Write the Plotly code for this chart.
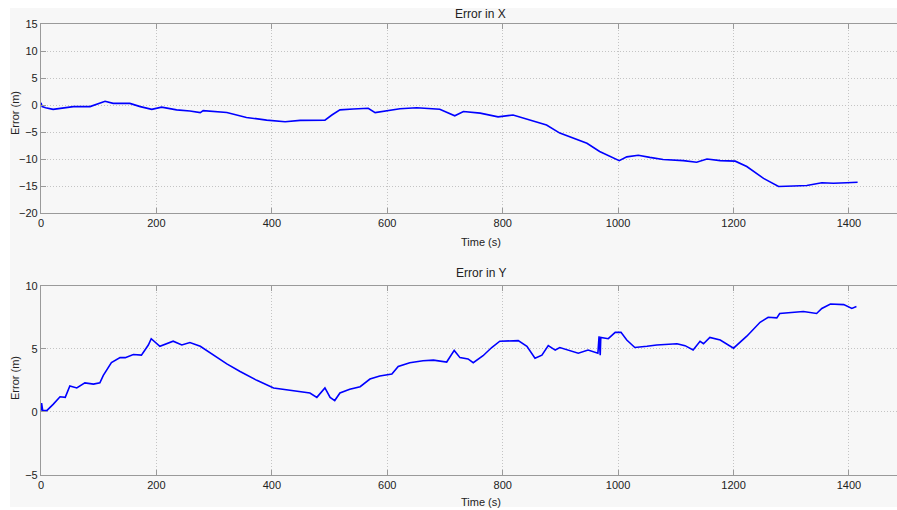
import plotly.graph_objects as go

# ---- data ----
t_x = [0, 2, 8, 21, 56, 85, 111, 125, 154, 172, 192, 209, 235, 258, 276, 281, 322, 356, 391, 423, 449,
       492, 504, 518, 541, 567, 579, 599, 622, 651, 691, 717, 732, 761, 792, 818, 853, 876, 899, 928,
       946, 968, 1002, 1015, 1035, 1055, 1078, 1113, 1136, 1154, 1177, 1203, 1223, 1252, 1278, 1304,
       1327, 1353, 1373, 1396, 1415]
err_x = [0.4, -0.3, -0.5, -0.8, -0.3, -0.3, 0.7, 0.3, 0.3, -0.3, -0.8, -0.4, -0.9, -1.1, -1.4, -1.05,
         -1.4, -2.3, -2.8, -3.1, -2.85, -2.8, -1.85, -0.9, -0.74, -0.6, -1.4, -1.1, -0.7, -0.5, -0.8,
         -2.0, -1.2, -1.5, -2.2, -1.85, -2.9, -3.7, -5.2, -6.4, -7.1, -8.6, -10.3, -9.6, -9.3, -9.7,
         -10.1, -10.3, -10.6, -10.0, -10.3, -10.4, -11.4, -13.6, -15.1, -15.0, -14.9, -14.4, -14.5,
         -14.4, -14.3]

t_y = [0, 1, 3, 10, 21, 33, 42, 50, 62, 76, 91, 102, 108, 122, 137, 146, 160, 174, 186, 191, 206,
       229, 244, 258, 276, 299, 322, 345, 374, 403, 426, 449, 466, 478, 492, 501, 509, 518, 535, 553,
       570, 587, 608, 619, 639, 662, 680, 703, 716, 726, 740, 749, 766, 781, 795, 827, 842, 856, 868,
       879, 891, 899, 911, 931, 948, 965, 967, 969, 970, 983, 995, 1005, 1015, 1029, 1050, 1067, 1102,
       1116, 1130, 1142, 1148, 1159, 1177, 1200, 1223, 1246, 1260, 1275, 1280, 1304, 1321, 1344, 1353,
       1368, 1391, 1405, 1413]
err_y = [0.1, 0.7, 0.1, 0.1, 0.6, 1.2, 1.15, 2.06, 1.9, 2.3, 2.2, 2.3, 2.9, 3.9, 4.3, 4.3, 4.55, 4.5,
         5.3, 5.8, 5.2, 5.6, 5.3, 5.5, 5.2, 4.5, 3.8, 3.2, 2.5, 1.9, 1.75, 1.6, 1.5, 1.15, 1.9, 1.15,
         0.9, 1.5, 1.8, 2.0, 2.6, 2.85, 3.0, 3.6, 3.9, 4.05, 4.1, 3.95, 4.87, 4.3, 4.2, 3.9, 4.45, 5.1,
         5.6, 5.65, 5.2, 4.25, 4.5, 5.25, 4.9, 5.1, 4.95, 4.65, 4.9, 4.65, 6.0, 4.5, 5.9, 5.8, 6.3, 6.3,
         5.7, 5.1, 5.2, 5.3, 5.4, 5.25, 4.9, 5.6, 5.4, 5.9, 5.7, 5.05, 6.0, 7.1, 7.5, 7.45, 7.8, 7.9,
         7.95, 7.8, 8.2, 8.55, 8.5, 8.2, 8.35]

x_ticks = [0, 200, 400, 600, 800, 1000, 1200, 1400]
y1_ticks = [15, 10, 5, 0, -5, -10, -15, -20]
y2_ticks = [10, 5, 0, -5]

W, H = 897, 510
FONT = "Liberation Sans, Arial, sans-serif"
LINE = "#0000ff"
AX = "#9a9a9a"
GRID = "#c4c4c4"
BG = "#f7f7f7"

fig = go.Figure()
fig.add_trace(go.Scatter(x=t_x, y=err_x, mode="lines", line=dict(color=LINE, width=1.6),
                         xaxis="x", yaxis="y", showlegend=False))
fig.add_trace(go.Scatter(x=t_y, y=err_y, mode="lines", line=dict(color=LINE, width=1.6),
                         xaxis="x2", yaxis="y2", showlegend=False))

xdom = [41 / W, 1.0]
y1dom = [1 - 213 / H, 1 - 24 / H]
y2dom = [1 - 475 / H, 1 - 285.7 / H]
xr = [0, (W - 41) / 0.5771]

def xax(dom_anchor):
    return dict(domain=xdom, range=xr, tickvals=x_ticks, ticks="inside", ticklen=5,
                tickcolor=AX, showline=True, linecolor=AX, linewidth=1.2, mirror="allticks",
                showgrid=True, gridcolor=GRID, griddash="1px,2px", gridwidth=1, zeroline=False,
                tickfont=dict(family=FONT, size=11, color="#222"), anchor=dom_anchor,
                automargin=False, fixedrange=True)

def yax(dom, rng, ticks, anchor):
    return dict(domain=dom, range=rng, tickvals=ticks, ticks="inside", ticklen=5,
                tickcolor=AX, showline=True, linecolor=AX, linewidth=1.2, mirror=False,
                showgrid=True, gridcolor=GRID, griddash="1px,2px", gridwidth=1, zeroline=False,
                tickfont=dict(family=FONT, size=11, color="#222"), anchor=anchor,
                automargin=False, fixedrange=True)

fig.update_layout(
    width=W, height=H,
    margin=dict(l=0, r=0, t=0, b=0, autoexpand=False),
    paper_bgcolor="white", plot_bgcolor=BG,
    xaxis=xax("y"), yaxis=yax(y1dom, [-20, 15], y1_ticks, "x"),
    xaxis2=xax("y2"), yaxis2=yax(y2dom, [-5, 10], y2_ticks, "x2"),
    shapes=[dict(type="rect", xref="paper", yref="paper", x0=10 / W, x1=1.0,
                 y0=1 - 507 / H, y1=1 - 8 / H, fillcolor=BG, line=dict(width=0), layer="below")],
)

tc = 762
ann = [
    dict(text="Error in X", x=tc, xref="x", y=1 - 14 / H, size=12),
    dict(text="Time (s)", x=tc, xref="x", y=1 - 242 / H, size=11),
    dict(text="Error in Y", x=tc, xref="x2", y=1 - 273 / H, size=12),
    dict(text="Time (s)", x=tc, xref="x2", y=1 - 502 / H, size=11),
]
for a in ann:
    fig.add_annotation(text=a["text"], x=a["x"], xref=a["xref"], y=a["y"], yref="paper",
                       showarrow=False, xanchor="center", yanchor="middle",
                       font=dict(family=FONT, size=a["size"], color="#222"))
for yc in [113, 378]:
    fig.add_annotation(text="Error (m)", x=15 / W, xref="paper", y=1 - yc / H, yref="paper",
                       showarrow=False, textangle=-90, xanchor="center", yanchor="middle",
                       font=dict(family=FONT, size=11, color="#222"))

fig.write_html("out.html", config={"displayModeBar": False},
               post_script="document.body.style.margin='0px';document.body.style.overflow='hidden';")
